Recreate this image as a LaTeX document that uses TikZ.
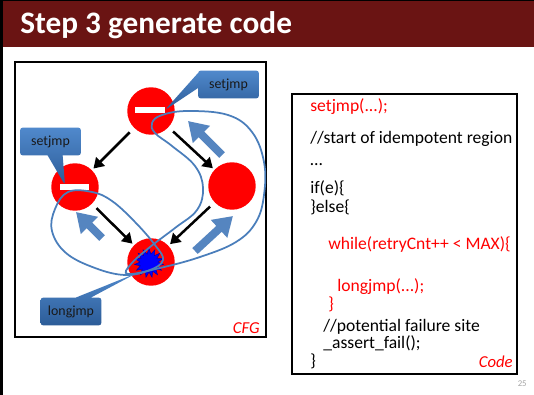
\documentclass[tikz,border=0pt]{standalone}
\usepackage{fontspec}
\setmainfont{Carlito}
\usetikzlibrary{arrows.meta,shapes.geometric,shapes.callouts}

\definecolor{titlered}{HTML}{6A1413}
\definecolor{calltop}{HTML}{5089CC}
\definecolor{callbot}{HTML}{2C5C98}
\definecolor{loopblue}{HTML}{4A7EBB}
\definecolor{fatblue}{HTML}{5585C0}
\definecolor{starblue}{HTML}{0000FF}

\tikzset{
  cfgnode/.style={circle, fill=red, draw=none, minimum size=0.95cm, inner sep=0pt},
  whitebar/.style={rectangle, fill=white, minimum width=0.6cm, minimum height=0.12cm, inner sep=0pt},
  flow/.style={line width=0.05cm, -{Triangle[width=0.24cm,length=0.2cm]}, shorten <=0.12cm, shorten >=0.04cm},
  fatarrow/.style={line width=0.16cm, draw=fatblue, -{Triangle[width=0.46cm,length=0.38cm]}},
  loopline/.style={draw=loopblue, line width=0.035cm},
  tag/.style={rectangle callout, rounded corners=0.06cm, top color=calltop, bottom color=callbot,
    draw=none, minimum width=1.22cm, minimum height=0.56cm, inner sep=0pt,
    callout pointer width=0.3cm, font=\fontsize{7.9}{9}\selectfont, text=black!90},
  codeline/.style={anchor=base west, inner sep=0pt, font=\fontsize{10}{12}\selectfont},
  redline/.style={codeline, text=red},
  frame/.style={draw=black, line width=0.04cm}
}

\begin{document}
\begin{tikzpicture}[x=0.02cm, y=-0.02cm]
\useasboundingbox (0,0) rectangle (534,395);
\fill[white] (0,0) rectangle (534,395);

% title band
\fill[titlered] (0,0) rectangle (534,47);
\draw[black, line width=0.012cm] (0,0.3) -- (534,0.3);
\draw[black, line width=0.06cm] (1.5,0) -- (1.5,395);
\node[anchor=base west, inner sep=0pt, text=white, font=\fontsize{17.8}{20}\selectfont\bfseries] (title) at (20,34) {Step 3 generate code};

% CFG panel
\draw[frame] (15,62) rectangle (266,337);

\node[cfgnode] (nT) at (151,111) {};
\node[cfgnode] (nL) at (75,187) {};
\node[cfgnode] (nR) at (232,186) {};
\node[cfgnode] (nB) at (151,262) {};

\node[whitebar] (barT) at (150,110) {};
\node[whitebar] (barL) at (74.5,187) {};
\node[star, star points=15, star point ratio=1.6, minimum size=0.58cm, inner sep=0pt,
      fill=starblue, draw=blue!70!black, line width=0.01cm] (fail) at (149,263) {};

\draw[flow] (nT) -- (nL);
\draw[flow] (nT) -- (nR);
\draw[flow] (nL) -- (nB);
\draw[flow] (nR) -- (nB);

% thick retry arrows
\draw[fatarrow] (222,155) -- (188,121);
\draw[fatarrow] (102,238) -- (76,212);
\draw[fatarrow] (195,251) -- (233,216);

% idempotent regions
\draw[loopline] plot[smooth cycle, tension=0.65] coordinates {
  (152,123) (162,115) (188,111) (228,115) (252,132) (264,162) (264,195) (256,222)
  (236,242) (200,257) (160,268) (128,274) (131,264) (150,247) (175,228) (197,210)
  (203,188) (195,166) (172,146) (155,133)};
\draw[loopline] plot[smooth cycle, tension=0.65] coordinates {
  (68,192) (92,192) (112,201) (135,222) (155,245) (163,260) (150,270) (125,275)
  (95,268) (66,253) (52,231) (55,209)};

% labels on the graph
\node[tag, callout absolute pointer={(165,110)}] (tagT) at (228.5,84.5) {setjmp};
\node[tag, callout absolute pointer={(65,185)}] (tagL) at (50.5,141.5) {setjmp};
\node[tag, callout absolute pointer={(137,273)}] (tagB) at (71,311.5) {longjmp};

\node[anchor=base east, inner sep=0pt, text=red, font=\fontsize{9.5}{11}\selectfont\itshape] (cfg) at (260,333) {CFG};

% code panel
\draw[frame] (292,94) rectangle (517,374);
\node[redline] (c1) at (310,112) {setjmp(...);};
\node[codeline] (c2) at (310,143) {//start of idempotent region};
\node[codeline] (c3) at (310,165) {\dots};
\node[codeline] (c4) at (310,193) {if(e)\{};
\node[codeline] (c5) at (310,212) {\}else\{};
\node[redline] (c6) at (328,249) {while(retryCnt++ < MAX)\{};
\node[redline] (c7) at (337,291) {longjmp(...);};
\node[redline] (c8) at (328,309) {\}};
\node[codeline] (c9) at (323,331) {//potential failure site};
\node[codeline] (c10) at (323,348) {\_assert\_fail();};
\node[codeline] (c11) at (310,366) {\}};
\node[anchor=base east, inner sep=0pt, text=red, font=\fontsize{9.5}{11}\selectfont\itshape] (code) at (513,367) {Code};

\node[anchor=base east, inner sep=0pt, text=black!35, font=\fontsize{5}{6}\selectfont] (pg) at (527,386) {25};
\end{tikzpicture}
\end{document}
